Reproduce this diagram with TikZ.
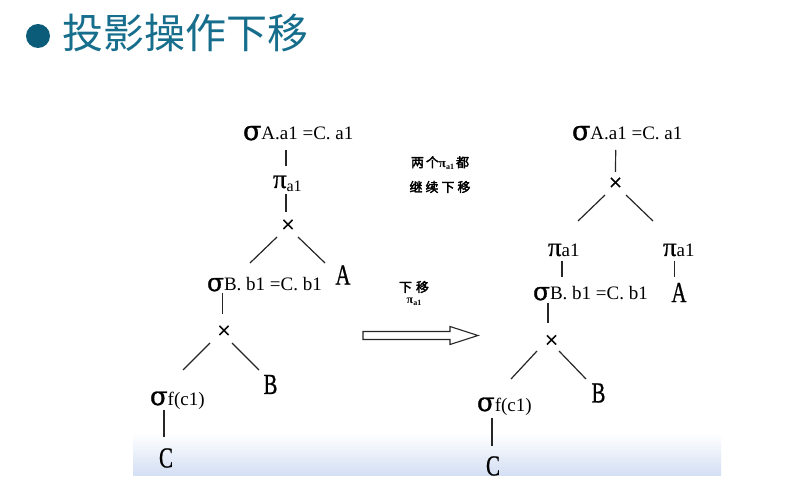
\documentclass[tikz,border=0pt]{standalone}
\usepackage{fontspec}
\usepackage{graphicx}
\setmainfont{Liberation Serif}
\newfontfamily\cjk{Noto Sans CJK SC}
\newfontfamily\cjkb[FakeBold=2.5]{Noto Sans CJK SC}
\newfontfamily\grk[FakeBold=1.2]{DejaVu Serif}
\newfontfamily\pif[FakeBold=0.8]{Liberation Serif}
\usetikzlibrary{calc}
\definecolor{titlec}{RGB}{22,110,140}
\definecolor{bulletc}{RGB}{10,92,120}
\definecolor{bandc}{RGB}{212,223,244}
\newcommand\fs[1]{\fontsize{#1}{#1}\selectfont}
\newcommand\lf[1]{\scalebox{0.72}[1]{#1}}
\newcommand\sgm[1]{{\grk\fs{#1}σ}}
\newcommand\pii{{\pif\fs{27}π}}
\begin{document}
\begin{tikzpicture}[x=1pt,y=-1pt,
  op/.style={anchor=base west,inner sep=0pt,outer sep=0pt},
  leaf/.style={anchor=center,inner sep=0pt,font=\pif\fs{29}},
  crossnode/.style={anchor=center,inner sep=0pt,font=\pif\fs{24}},
  edge/.style={line width=1.2pt,black!85},
  note/.style={anchor=center,inner sep=0pt}]
\fill[white] (0,0) rectangle (812,497);
\useasboundingbox (0,0) rectangle (812,497);
% bottom band
\shade[top color=white,bottom color=bandc] (133,433) rectangle (721,475);
% title
\fill[bulletc] (38,36) circle (12pt);
\node[anchor=west,inner sep=0pt,text=titlec,font=\cjk\fs{41}] (title) at (62,33) {投影操作下移};

% ---------- left tree ----------
\node[op] (sigA1) at (243,140) {\sgm{27}{\fs{19}A.a1 =C. a1}};
\node[op] (pi1) at (273,188) {\pii\raisebox{-4pt}{\fs{16}a1}};
\node[crossnode] (x1) at (288,226) {×};
\node[op] (sigB1) at (207,291) {\sgm{25}{\fs{19}B. b1 =C. b1}};
\node[leaf] (A1) at (343,275) {\lf{A}};
\node[crossnode] (x2) at (224,332) {×};
\node[leaf] (B1) at (270.5,384.5) {\lf{B}};
\node[op] (sigF1) at (150,405) {\sgm{26}{\fs{19}f(c1)}};
\node[leaf] (C1) at (166,458) {\lf{C}};

\draw[edge] ($(sigA1.base west)+(43,10)$) -- ($(pi1.base west)+(13,-22)$);
\draw[edge] ($(pi1.base west)+(13,6)$) -- ($(x1)+(-2,-14)$);
\draw[edge] ($(x1)+(-11,11)$) -- ($(sigB1.base west)+(43,-28)$);
\draw[edge] ($(x1)+(10,11)$) -- ($(A1)+(-18,-12)$);
\draw[edge] ($(sigB1.base west)+(15.5,2)$) -- ($(x2)+(-1.5,-18)$);
\draw[edge] ($(x2)+(-14,11)$) -- ($(sigF1.base west)+(33,-35)$);
\draw[edge] ($(x2)+(8,11)$) -- ($(B1)+(-11.5,-14.5)$);
\draw[edge] ($(sigF1.base west)+(14,5)$) -- ($(C1)+(-2,-21)$);

% ---------- middle notes and arrow ----------
\node[note] (n1) at (440,163) {{\cjkb\fs{13}两\kern2pt 个}{\bfseries\fs{13}π}\raisebox{-2.5pt}{\bfseries\fs{8}a1}{\cjkb\fs{13}\kern2pt 都}};
\node[note] (n2) at (440,187) {\cjkb\fs{13}继\kern3pt 续\kern3pt 下\kern3pt 移};
\node[note] (n3) at (414,287) {\cjkb\fs{13}下\kern4pt 移};
\node[note] (n4) at (414,302) {{\bfseries\fs{12}π}\raisebox{-2.5pt}{\bfseries\fs{8}a1}};
\draw[line width=1.1pt,black!85,fill=white]
  (363,331.5) -- (450,331.5) -- (450,326.5) -- (478,335.5) -- (450,344.5)
  -- (450,339.5) -- (363,339.5) -- cycle;

% ---------- right tree ----------
\node[op] (sigA2) at (572,140) {\sgm{27}{\fs{19}A.a1 =C. a1}};
\node[crossnode] (x3) at (615.5,184) {×};
\node[op] (pi2L) at (548,256) {\pii\raisebox{-1pt}{\fs{19}a1}};
\node[op] (pi2R) at (663,256) {\pii\raisebox{-1pt}{\fs{19}a1}};
\node[op] (sigB2) at (533,300) {\sgm{25}{\fs{19}B. b1 =C. b1}};
\node[leaf] (A2) at (679,292.5) {\lf{A}};
\node[crossnode] (x4) at (551.5,341.5) {×};
\node[leaf] (B2) at (598.5,393) {\lf{B}};
\node[op] (sigF2) at (477,411) {\sgm{26}{\fs{19}f(c1)}};
\node[leaf] (C2) at (493,466) {\lf{C}};

\draw[edge] ($(sigA2.base west)+(43.7,10)$) -- ($(x3)+(0,-12)$);
\draw[edge] ($(x3)+(-10.5,11)$) -- ($(pi2L.base west)+(30,-35)$);
\draw[edge] ($(x3)+(10.5,11)$) -- ($(pi2R.base west)+(-10,-35)$);
\draw[edge] ($(pi2L.base west)+(14,5)$) -- ($(sigB2.base west)+(29,-23)$);
\draw[edge] ($(pi2R.base west)+(11.7,5)$) -- ($(A2)+(-4.3,-15.5)$);
\draw[edge] ($(sigB2.base west)+(15,3)$) -- ($(x4)+(-3.5,-18.5)$);
\draw[edge] ($(x4)+(-14.5,9.5)$) -- ($(sigF2.base west)+(34,-32)$);
\draw[edge] ($(x4)+(7.5,9.5)$) -- ($(B2)+(-12.5,-14)$);
\draw[edge] ($(sigF2.base west)+(15,7)$) -- ($(C2)+(-1,-20)$);
\end{tikzpicture}
\end{document}
